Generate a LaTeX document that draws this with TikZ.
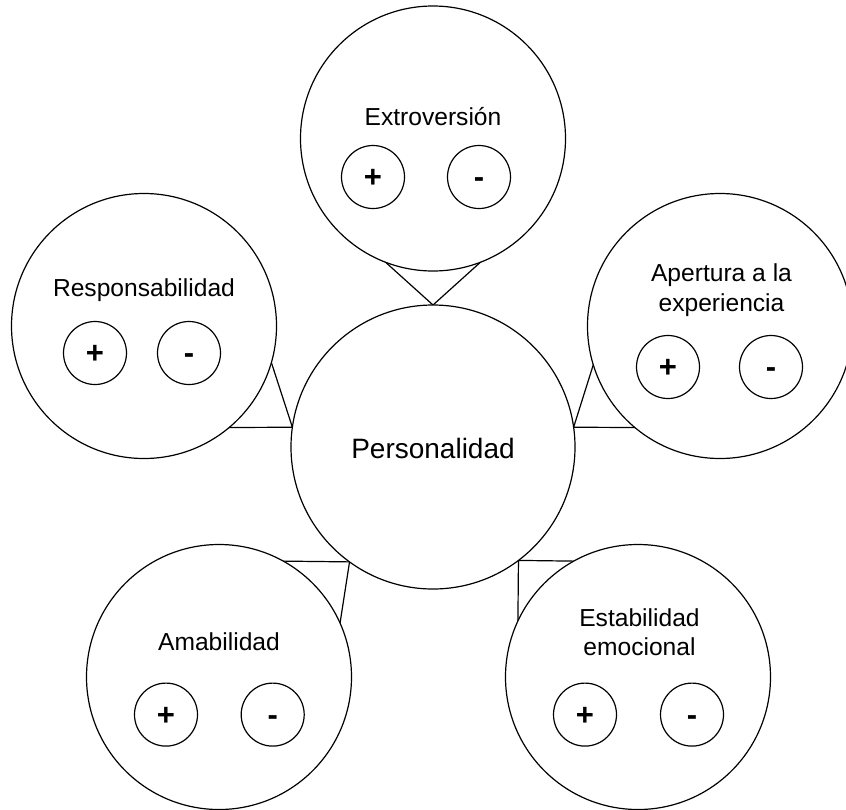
\documentclass[tikz,border=0pt]{standalone}
\usepackage{fontspec}
\setmainfont{Liberation Sans}
\usetikzlibrary{backgrounds}
\begin{document}
\begin{tikzpicture}[x=1pt,y=-1pt,
  ring/.style={circle,draw=black,line width=1.2pt,fill=white,inner sep=0pt,outer sep=0pt},
  trait/.style={ring,minimum size=265pt},
  core/.style={ring,minimum size=284pt},
  pole/.style={ring,minimum size=63pt,font=\fontsize{31}{37}\selectfont\bfseries,
               text height=28.1pt,text depth=6.6pt},
  tail/.style={draw=black,line width=1.2pt,fill=white,line join=miter},
  label/.style={font=\fontsize{24.6}{29.4}\selectfont,inner sep=0pt,align=center},
  title/.style={font=\fontsize{28}{33.6}\selectfont,inner sep=0pt,anchor=base}
]
\useasboundingbox (0,0) rectangle (846,809);

% central concept
\node[core] (P) at (433,447) {};
\node[title] (tP) at (433,458) {Personalidad};

% the five traits
\node[trait] (E) at (433,138.5) {};
\node[trait] (R) at (144,326) {};
\node[trait] (A) at (720,326) {};
\node[trait] (M) at (219,677) {};
\node[trait] (S) at (638,677) {};

% trait names
\node[label,anchor=base] (tE) at (433,125) {Extroversión};
\node[label,anchor=base] (tR) at (144,296) {Responsabilidad};
\node[label] (tA) at (721.5,290.3) {Apertura a la\\experiencia};
\node[label,anchor=base] (tM) at (219,650) {Amabilidad};
\node[label] (tS) at (639.5,632.1) {Estabilidad\\emocional};

% positive and negative poles
\node[pole] (Ep) at (373,177) {+};
\node[pole] (Em) at (479,177) {-};
\node[pole] (Rp) at (95,353) {+};
\node[pole] (Rm) at (189,353) {-};
\node[pole] (Ap) at (668,367) {+};
\node[pole] (Am) at (771,367) {-};
\node[pole] (Mp) at (166,714.6) {+};
\node[pole] (Mm) at (272.7,714.6) {-};
\node[pole] (Sp) at (585,714.6) {+};
\node[pole] (Sm) at (692,714.6) {-};

% callout tails pointing at the central circle
\begin{scope}[on background layer]
  \fill[white] (0,0) rectangle (846,809);
  \draw[tail] (E.-111) -- (P.north) -- (E.-69) -- cycle;
  \draw[tail] (R.-16) -- (P.172) -- (R.-50) -- cycle;
  \draw[tail] (A.-163) -- (P.8) -- (A.-130) -- cycle;
  \draw[tail] (M.61) -- (P.-126.5) -- (M.24) -- cycle;
  \draw[tail] (S.119) -- (P.-53.7) -- (S.155.5) -- cycle;
\end{scope}
\end{tikzpicture}
\end{document}
